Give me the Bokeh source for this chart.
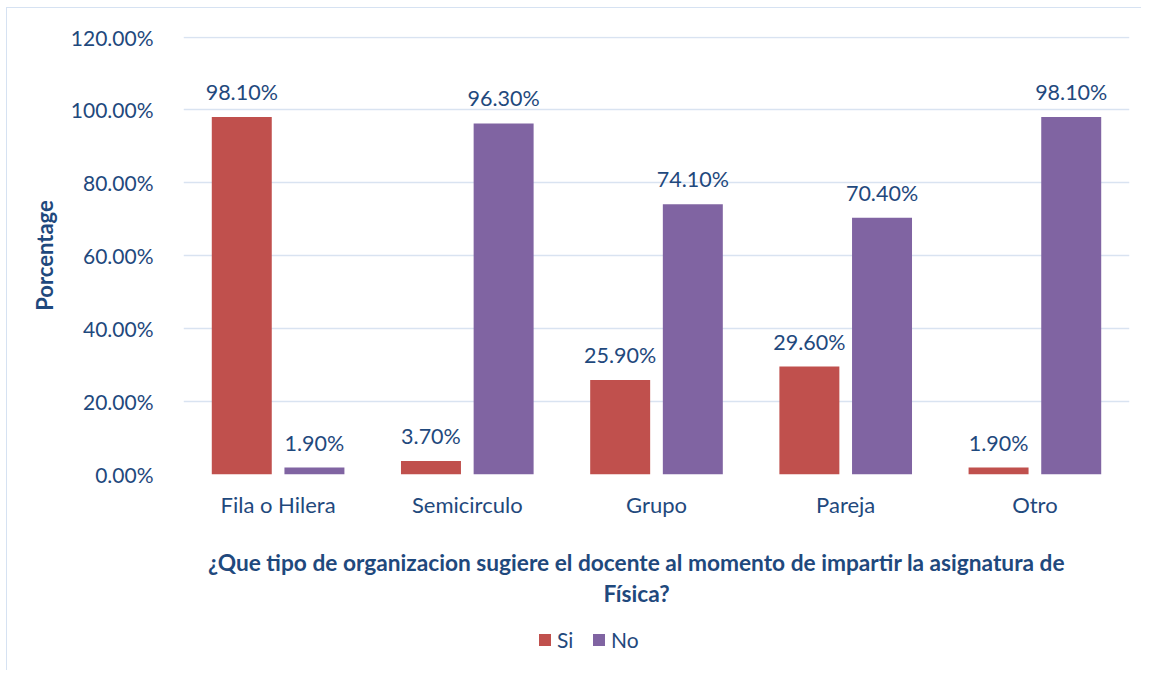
from bokeh.plotting import figure
from bokeh.layouts import column
from bokeh.models import (ColumnDataSource, FactorRange, NumeralTickFormatter, LabelSet,
                          Legend, LegendItem, FixedTicker, Range1d)
from bokeh.core.properties import value
from bokeh.transform import dodge
from bokeh.embed import file_html
from bokeh.resources import INLINE

categories = ["Fila o Hilera", "Semicirculo", "Grupo", "Pareja", "Otro"]
si_values = [0.981, 0.037, 0.259, 0.296, 0.019]
no_values = [0.019, 0.963, 0.741, 0.704, 0.981]
series_names = ["Si", "No"]
y_ticks = [0.0, 0.2, 0.4, 0.6, 0.8, 1.0, 1.2]
x_title_lines = ["¿Que tipo de organizacion sugiere el docente al momento de impartir la asignatura de",
                 "Física?"]

TEXT = "#1F497D"
GRID = "#D9E3F1"
FONT = "Lato"
RED = "#C0504D"
PURPLE = "#8064A2"

source = ColumnDataSource(dict(
    cat=categories,
    si=si_values,
    no=no_values,
    si_lbl=[f"{v*100:.2f}%" for v in si_values],
    no_lbl=[f"{v*100:.2f}%" for v in no_values],
))

W = 1134
p = figure(x_range=FactorRange(*categories), y_range=(0, 1.2015),
           frame_width=946, frame_height=438, output_backend="svg", toolbar_location=None,
           min_border_left=176, min_border_right=12, min_border_top=28, min_border_bottom=45)
p.outline_line_color = None
p.background_fill_color = "white"
p.border_fill_color = "white"

off = 0.192
bw = 0.317
r_si = p.vbar(x=dodge("cat", -off, range=p.x_range), top="si", width=bw, source=source,
              fill_color=RED, line_color=None)
r_no = p.vbar(x=dodge("cat", off, range=p.x_range), top="no", width=bw, source=source,
              fill_color=PURPLE, line_color=None)

for col, o in (("si_lbl", -off), ("no_lbl", off)):
    top = "si" if col == "si_lbl" else "no"
    p.add_layout(LabelSet(x=dodge("cat", o, range=p.x_range), y=top, text=col, source=source,
                          y_offset=12, text_align="center", text_baseline="bottom",
                          text_font=value(FONT), text_font_size=value("21.5px"),
                          text_color=TEXT))

# axes
p.yaxis.ticker = FixedTicker(ticks=y_ticks)
p.yaxis.formatter = NumeralTickFormatter(format="0.00%")
p.yaxis.axis_line_color = None
p.yaxis.major_tick_line_color = None
p.yaxis.minor_tick_line_color = None
p.yaxis.major_label_standoff = 24
p.yaxis.major_label_text_font = FONT
p.yaxis.major_label_text_font_size = "21px"
p.yaxis.major_label_text_color = TEXT
p.yaxis.axis_label = "Porcentage"
p.yaxis.axis_label_text_font = FONT
p.yaxis.axis_label_text_font_style = "bold"
p.yaxis.axis_label_text_font_size = "22px"
p.yaxis.axis_label_text_color = TEXT
p.yaxis.axis_label_standoff = 10

p.xaxis.axis_line_color = None
p.xaxis.major_tick_line_color = None
p.xaxis.minor_tick_line_color = None
p.xaxis.major_label_standoff = 10
p.xaxis.major_label_text_font = FONT
p.xaxis.major_label_text_font_size = "22px"
p.xaxis.major_label_text_color = TEXT

p.xgrid.grid_line_color = None
p.ygrid.grid_line_color = GRID
p.ygrid.grid_line_width = 1.5

# lower panel: axis title and legend (x in page pixels, y in pixels from panel top)
H2 = 150
p2 = figure(width=W, height=H2, x_range=Range1d(184, 1130), y_range=Range1d(H2, 0),
            output_backend="svg", toolbar_location=None,
            x_axis_location=None, y_axis_location=None, min_border=0)
p2.grid.visible = False
p2.outline_line_color = None
p2.background_fill_color = "white"
p2.border_fill_color = "white"

title_src = ColumnDataSource(dict(x=[637, 637], y=[42, 73], t=x_title_lines))
p2.text(x="x", y="y", text="t", source=title_src, text_align="center", text_baseline="middle",
        text_font=value(FONT), text_font_style="bold", text_font_size=value("22.7px"),
        text_color=TEXT)

# legend swatches (hidden renderers only used to draw the legend glyphs)
d_si = p2.vbar(x="si", top="si", width=0.1, source=source, fill_color=RED, line_color=None,
               visible=False)
d_no = p2.vbar(x="no", top="no", width=0.1, source=source, fill_color=PURPLE, line_color=None,
               visible=False)
legend = Legend(items=[LegendItem(label=series_names[0], renderers=[d_si]),
                       LegendItem(label=series_names[1], renderers=[d_no])],
                orientation="horizontal", location=(354, 18),
                label_text_font=FONT, label_text_font_size="21px", label_text_color=TEXT,
                glyph_width=15, glyph_height=15, spacing=14, label_standoff=5,
                border_line_color=None, background_fill_alpha=0, margin=0,
                inactive_fill_alpha=0)
p2.add_layout(legend, "center")

layout = column(p, p2, spacing=0)
layout.styles = {"border-left": "1px solid #D6E2F2", "border-top": "1px solid #D6E2F2",
                 "margin-left": "6px", "margin-top": "7px"}

open("out.html", "w").write(file_html(layout, INLINE))
